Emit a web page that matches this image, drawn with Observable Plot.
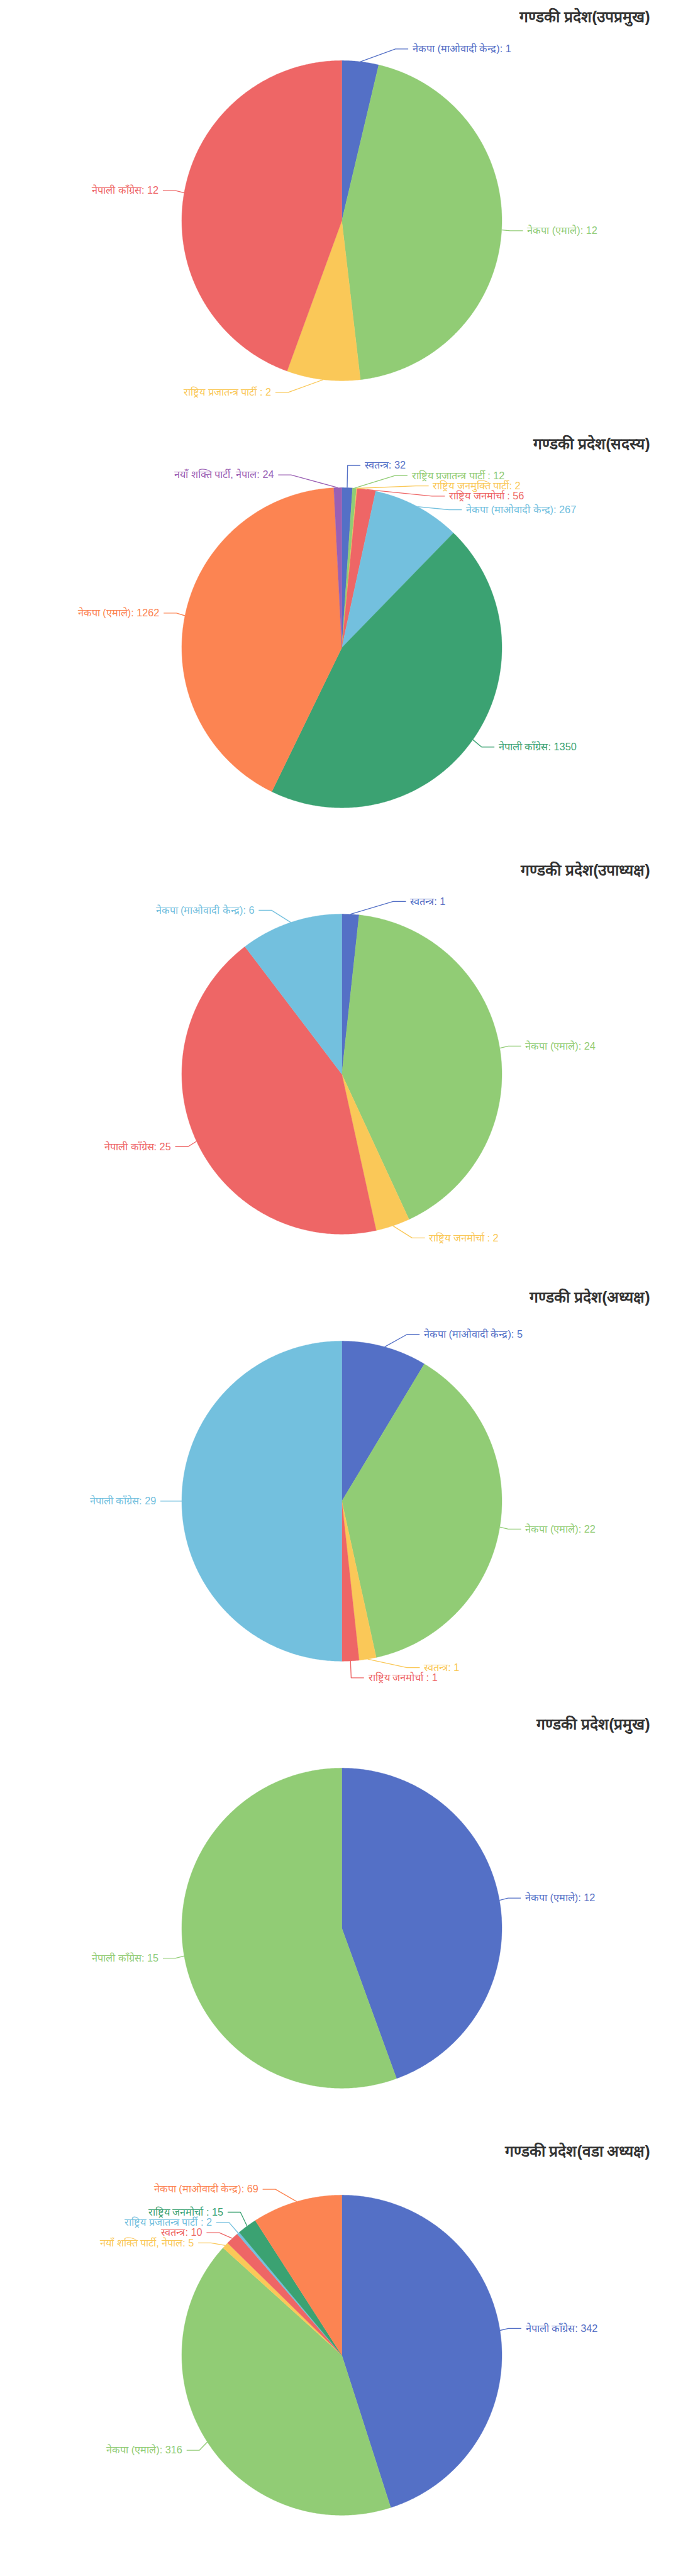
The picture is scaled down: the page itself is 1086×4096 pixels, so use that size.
<!DOCTYPE html>
<html>
<head>
<meta charset="utf-8">
<script src="https://cdn.jsdelivr.net/npm/d3@7"></script>
<script src="https://cdn.jsdelivr.net/npm/@observablehq/plot@0.6"></script>
<style>
  html, body { margin: 0; padding: 0; background: #ffffff; }
  body { padding-top: 10.86px; font-family: "Noto Sans", sans-serif; }
  #charts svg { display: block; }
</style>
</head>
<body>
<div id="charts"></div>
<script>
// ---------------- data ----------------
const palette = ["#5470c6", "#91cc75", "#fac858", "#ee6666", "#73c0de", "#3ba272", "#fc8452", "#9a60b4", "#ea7ccc"];

const titles = [
  "गण्डकी प्रदेश(उपप्रमुख)",
  "गण्डकी प्रदेश(सदस्य)",
  "गण्डकी प्रदेश(उपाध्यक्ष)",
  "गण्डकी प्रदेश(अध्यक्ष)",
  "गण्डकी प्रदेश(प्रमुख)",
  "गण्डकी प्रदेश(वडा अध्यक्ष)"
];

const parties1 = ["नेकपा (माओवादी केन्द्र)", "नेकपा (एमाले)", "राष्ट्रिय प्रजातन्त्र पार्टी ", "नेपाली काँग्रेस"];
const seats1 = [1, 12, 2, 12];

const parties2 = ["स्वतन्त्र", "राष्ट्रिय प्रजातन्त्र पार्टी ", "राष्ट्रिय जनमुक्ति पार्टी", "राष्ट्रिय जनमोर्चा ", "नेकपा (माओवादी केन्द्र)", "नेपाली काँग्रेस", "नेकपा (एमाले)", "नयाँ शक्ति पार्टी, नेपाल"];
const seats2 = [32, 12, 2, 56, 267, 1350, 1262, 24];

const parties3 = ["स्वतन्त्र", "नेकपा (एमाले)", "राष्ट्रिय जनमोर्चा ", "नेपाली काँग्रेस", "नेकपा (माओवादी केन्द्र)"];
const seats3 = [1, 24, 2, 25, 6];

const parties4 = ["नेकपा (माओवादी केन्द्र)", "नेकपा (एमाले)", "स्वतन्त्र", "राष्ट्रिय जनमोर्चा ", "नेपाली काँग्रेस"];
const seats4 = [5, 22, 1, 1, 29];

const parties5 = ["नेकपा (एमाले)", "नेपाली काँग्रेस"];
const seats5 = [12, 15];

const parties6 = ["नेपाली काँग्रेस", "नेकपा (एमाले)", "नयाँ शक्ति पार्टी, नेपाल", "स्वतन्त्र", "राष्ट्रिय प्रजातन्त्र पार्टी ", "राष्ट्रिय जनमोर्चा ", "नेकपा (माओवादी केन्द्र)"];
const seats6 = [342, 316, 5, 10, 2, 15, 69];

const chartParties = [parties1, parties2, parties3, parties4, parties5, parties6];
const chartSeats = [seats1, seats2, seats3, seats4, seats5, seats6];

// ---------------- layout (chart units, 784 x 500) ----------------
const K = 1086 / 800;           // output px per chart unit
const PAGE_LEFT = 8;
const CW = 784, CH = 500;
const CX = CW / 2, CY = CH / 2;
const R = 0.75 * Math.min(CW, CH) / 2;
const LEN = 15, LEN2 = 15, DIST = 5, LABEL_H = 12;

function adjustSingleSide(list, dir) {
  list.sort((a, b) => a.y - b.y);
  const viewTop = 0, viewHeight = CH;
  function shiftUp(end, delta) {
    for (let j = end; j >= 0; j--) {
      if (list[j].y - delta < viewTop) break;
      list[j].y -= delta;
      if (j > 0 && list[j].y > list[j - 1].y + list[j - 1].height) break;
    }
  }
  function shiftDown(start, end, delta) {
    for (let j = start; j < end; j++) {
      if (list[j].y + delta > viewTop + viewHeight) break;
      list[j].y += delta;
      if (j > start && j + 1 < end && list[j + 1].y > list[j].y + list[j].height) {
        shiftUp(j, delta / 2);
        return;
      }
    }
    shiftUp(end - 1, delta / 2);
  }
  function changeX(sub, isDown) {
    let last = isDown ? Number.MAX_VALUE : 0;
    for (const it of sub) {
      const dy = Math.abs(it.y - CY);
      const rr = R + it.len + it.len2;
      let dx = dy < R + it.len ? Math.sqrt(rr * rr - dy * dy) : Math.abs(it.x - CX);
      if (isDown && dx >= last) dx = last - 10;
      if (!isDown && dx <= last) dx = last + 10;
      it.x = CX + dx * dir;
      last = dx;
    }
  }
  let lastY = 0;
  const n = list.length;
  for (let i = 0; i < n; i++) {
    const delta = list[i].y - lastY;
    if (delta < 0) shiftDown(i, n, -delta);
    lastY = list[i].y + list[i].height;
  }
  if (viewHeight - lastY < 0) shiftUp(n - 1, lastY - viewHeight);
  changeX(list.filter(d => d.y < CY), false);
  changeX(list.filter(d => d.y >= CY), true);
}

function buildChart(title, names, values) {
  const total = d3.sum(values);
  let acc = 0;
  const wedges = [];
  const items = [];
  names.forEach((name, i) => {
    const a0 = acc / total * 2 * Math.PI;
    acc += values[i];
    const a1 = acc / total * 2 * Math.PI;
    const color = palette[i % palette.length];
    const steps = Math.max(2, Math.ceil((a1 - a0) / (Math.PI / 360)));
    wedges.push({key: i, x: CX, y: CY, color});
    for (let k = 0; k <= steps; k++) {
      const a = a0 + (a1 - a0) * k / steps;
      wedges.push({key: i, x: CX + R * Math.sin(a), y: CY - R * Math.cos(a), color});
    }
    wedges.push({key: i, x: CX, y: CY, color});
    const mid = (a0 + a1) / 2;
    const nx = Math.sin(mid), ny = -Math.cos(mid);
    const x1 = CX + R * nx, y1 = CY + R * ny;
    const x2 = x1 + nx * LEN, y2 = y1 + ny * LEN;
    const side = nx < 0 ? -1 : 1;
    const x3 = x2 + side * LEN2;
    items.push({key: i, color, text: `${name}: ${values[i]}`, x1, y1, dist: x2 - x3,
      x: x3 + side * DIST, y: y2, height: LABEL_H, len: LEN, len2: LEN2});
  });
  const right = items.filter(d => d.x >= CX);
  const left = items.filter(d => d.x < CX);
  adjustSingleSide(right, 1);
  adjustSingleSide(left, -1);
  const guide = [];
  for (const d of items) {
    d.left = d.x < CX;
    const x3 = d.left ? d.x + DIST : d.x - DIST;
    const x2 = x3 + d.dist;
    guide.push({key: d.key, x: d.x1, y: d.y1, color: d.color});
    guide.push({key: d.key, x: x2, y: d.y, color: d.color});
    guide.push({key: d.key, x: x3, y: d.y, color: d.color});
  }

  return Plot.plot({
    width: 1086,
    height: CH * K,
    margin: 0,
    style: {background: "#ffffff", overflow: "visible"},
    x: {domain: [0, CW], range: [PAGE_LEFT * K, (PAGE_LEFT + CW) * K], axis: null},
    y: {domain: [0, CH], range: [0, CH * K], axis: null},
    color: {type: "identity"},
    marks: [
      Plot.line(wedges, {x: "x", y: "y", z: "key", fill: "color", stroke: "color", strokeWidth: 0.4, curve: "linear"}),
      Plot.line(guide, {x: "x", y: "y", z: "key", stroke: "color", strokeWidth: 1 * K, curve: "linear", strokeLinecap: "butt", strokeLinejoin: "miter"}),
      Plot.text(items.filter(d => !d.left), {x: "x", y: "y", text: "text", fill: "color", textAnchor: "start", lineAnchor: "middle", fontSize: 12 * K, fontFamily: "sans-serif"}),
      Plot.text(items.filter(d => d.left), {x: "x", y: "y", text: "text", fill: "color", textAnchor: "end", lineAnchor: "middle", fontSize: 12 * K, fontFamily: "sans-serif"}),
      Plot.text([title], {frameAnchor: "top-right", dx: -(1086 - 761 * K), dy: 17 * K, text: d => d, fill: "#333333", textAnchor: "end", lineAnchor: "bottom", fontSize: 18 * K, fontWeight: "bold", fontFamily: "sans-serif"})
    ]
  });
}

const root = document.getElementById("charts");
titles.forEach((t, i) => root.appendChild(buildChart(t, chartParties[i], chartSeats[i])));
</script>
</body>
</html>
